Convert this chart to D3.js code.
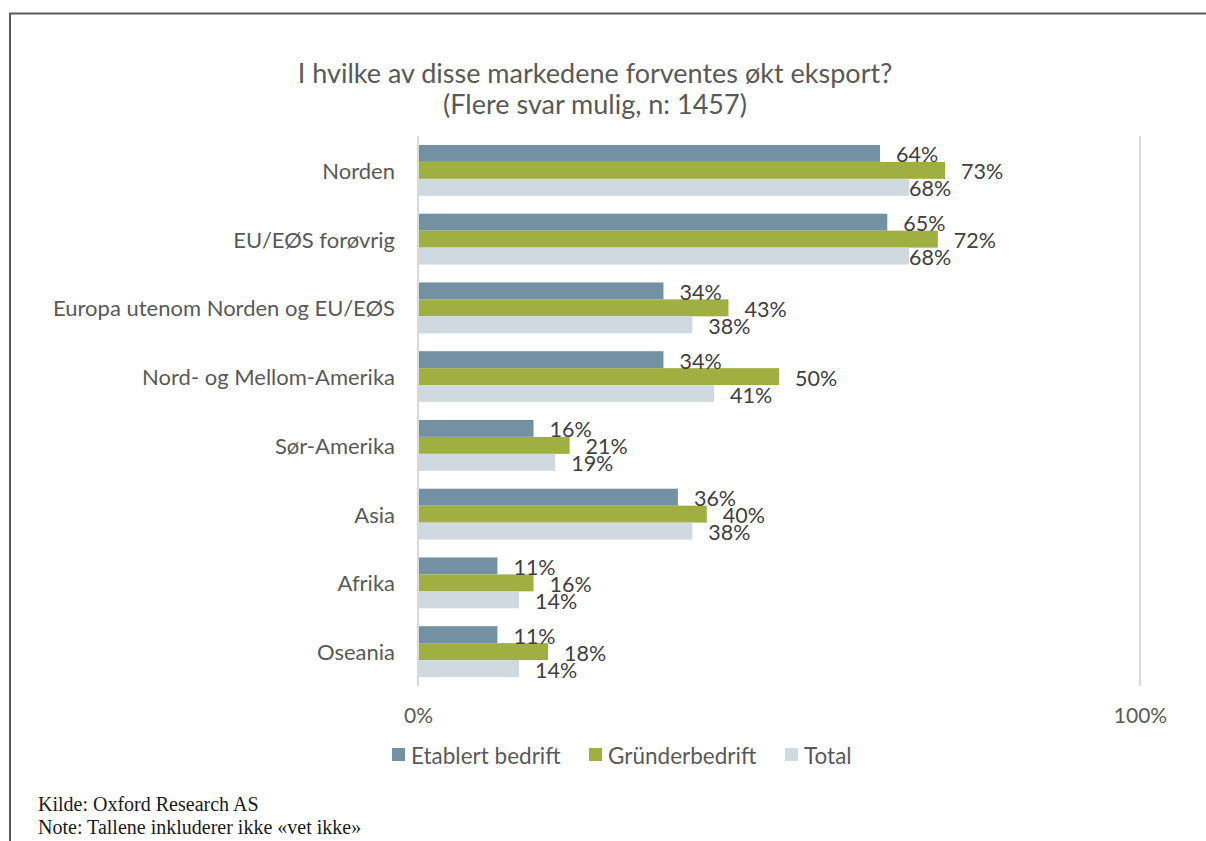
<!DOCTYPE html>
<html><head><meta charset="utf-8">
<script src="https://cdn.jsdelivr.net/npm/d3@7/dist/d3.min.js"></script>
<style>
html,body{margin:0;padding:0;background:#fff;}
svg{display:block;}
</style></head>
<body>
<svg id="chart" width="1206" height="841"></svg>
<script>
const categories = ["Norden","EU/EØS forøvrig","Europa utenom Norden og EU/EØS","Nord- og Mellom-Amerika","Sør-Amerika","Asia","Afrika","Oseania"];
const seriesNames = ["Etablert bedrift","Gründerbedrift","Total"];
const etablert = [64,65,34,34,16,36,11,11];
const grunder = [73,72,43,50,21,40,16,18];
const total = [68,68,38,41,19,38,14,14];
const xTicks = [0,100];
const colors = ["#7491A3","#9FAF42","#D0D9E0"];
const titleLines = ["I hvilke av disse markedene forventes økt eksport?","(Flere svar mulig, n: 1457)"];
const notes = ["Kilde: Oxford Research AS","Note: Tallene inkluderer ikke «vet ikke»"];

const seriesValues = [etablert, grunder, total];
const svg = d3.select("#chart");
const font = "Lato, 'Open Sans', sans-serif";

// frame
svg.append("path").attr("d","M10,841 V13.5 H1206").attr("fill","none").attr("stroke","#5a5a5a").attr("stroke-width",2);

// title
svg.append("g").selectAll("text").data(titleLines).join("text")
  .attr("x",595).attr("y",(d,i)=>83+i*31).attr("text-anchor","middle")
  .attr("font-family",font).attr("font-size",27).attr("fill","#595959").text(d=>d);

const x = d3.scaleLinear().domain([0,100]).range([418,1140]);
const y = d3.scaleBand().domain(categories).range([136,686]).paddingInner(0.26).paddingOuter(0.13);
const ySub = d3.scaleBand().domain(seriesNames).range([0,y.bandwidth()]);

// grid line at 100%
svg.append("g").selectAll("line").data(xTicks.filter(t=>t>0)).join("line")
  .attr("x1",d=>x(d)).attr("x2",d=>x(d)).attr("y1",136).attr("y2",686)
  .attr("stroke","#d9d9d9").attr("stroke-width",2);

// bars
const groups = svg.append("g").selectAll("g").data(categories).join("g")
  .attr("transform",d=>`translate(0,${y(d)})`);
groups.each(function(cat,ci){
  const g = d3.select(this);
  seriesNames.forEach((s,si)=>{
    const v = seriesValues[si][ci];
    g.append("rect").attr("x",x(0)).attr("y",ySub(s)).attr("width",x(v)-x(0)).attr("height",ySub.bandwidth())
      .attr("fill",colors[si]);
  });
  seriesNames.forEach((s,si)=>{
    const v = seriesValues[si][ci];
    // Total labels of the two top rows sit directly at bar end (as in the original)
    const off = (si===2 && v>=60) ? 0 : 16;
    g.append("text").attr("x",x(v)+off).attr("y",ySub(s)+ySub.bandwidth()/2+1)
      .attr("dominant-baseline","central")
      .attr("font-family",font).attr("font-size",21.5).attr("fill","#404040").text(v+"%");
  });
});

// axis line
svg.append("line").attr("x1",x(0)).attr("x2",x(0)).attr("y1",136).attr("y2",686)
  .attr("stroke","#d9d9d9").attr("stroke-width",2);

// category labels
svg.append("g").selectAll("text").data(categories).join("text")
  .attr("x",395).attr("y",d=>y(d)+y.bandwidth()/2).attr("dominant-baseline","central")
  .attr("text-anchor","end").attr("font-family",font).attr("font-size",22).attr("fill","#595959").text(d=>d);

// x tick labels
const xAxis = d3.axisBottom(x).tickValues(xTicks).tickFormat(d=>d+"%").tickSize(0).tickPadding(0);
const ax = svg.append("g").attr("transform","translate(0,708)").call(xAxis);
ax.select(".domain").remove();
ax.selectAll("text").attr("font-family",font).attr("font-size",21).attr("fill","#595959");

// legend
const legX = [392,589,785];
const leg = svg.append("g").selectAll("g").data(seriesNames).join("g")
  .attr("transform",(d,i)=>`translate(${legX[i]},748)`);
leg.append("rect").attr("width",13).attr("height",13).attr("fill",(d,i)=>colors[i]);
leg.append("text").attr("x",19).attr("y",7).attr("dominant-baseline","central")
  .attr("font-family",font).attr("font-size",22.5).attr("fill","#595959").text(d=>d);

// notes
svg.append("g").selectAll("text").data(notes).join("text")
  .attr("x",38).attr("y",(d,i)=>811+i*23)
  .attr("font-family","'Liberation Serif', 'DejaVu Serif', serif").attr("font-size",20).attr("fill","#1a1a1a").text(d=>d);
</script>
</body></html>
